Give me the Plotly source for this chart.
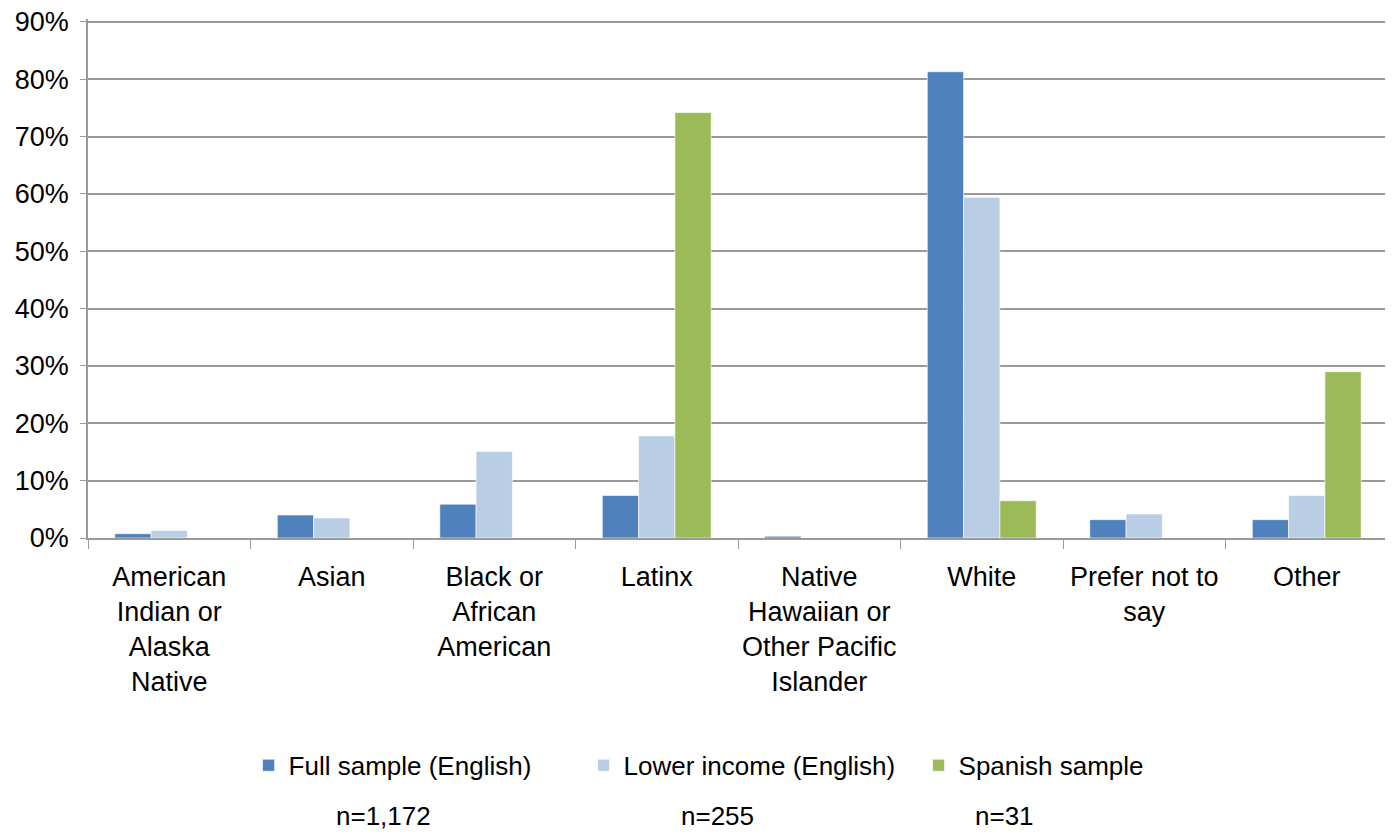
import plotly.graph_objects as go

categories = [
    "American<br>Indian or<br>Alaska<br>Native",
    "Asian",
    "Black or<br>African<br>American",
    "Latinx",
    "Native<br>Hawaiian or<br>Other Pacific<br>Islander",
    "White",
    "Prefer not to<br>say",
    "Other",
]
full_sample = [0.75, 4.0, 5.9, 7.4, 0.3, 81.3, 3.2, 3.2]
lower_income = [1.3, 3.5, 15.1, 17.8, 0.0, 59.4, 4.2, 7.4]
spanish = [0.0, 0.0, 0.0, 74.2, 0.0, 6.5, 0.0, 29.0]
series_names = ["Full sample (English)", "Lower income (English)", "Spanish sample"]
n_labels = ["n=1,172", "n=255", "n=31"]
y_ticks = [0, 10, 20, 30, 40, 50, 60, 70, 80, 90]

colors = ["#4F81BD", "#B9CDE5", "#9BBB59"]
FONT = "Liberation Sans, Arial, sans-serif"
FS = 26
TFS = 27

fig = go.Figure()
for name, vals, col in zip(series_names, [full_sample, lower_income, spanish], colors):
    fig.add_trace(go.Bar(
        x=categories, y=[v / 100 for v in vals], name=name,
        marker=dict(color=col, line=dict(color="rgba(255,255,255,0.6)", width=1)),
    ))

fig.update_layout(
    width=1385, height=827,
    paper_bgcolor="white", plot_bgcolor="white",
    font=dict(family=FONT, size=FS, color="#000000"),
    margin=dict(l=80, r=5, t=11, b=297),
    barmode="group", bargap=0.33, bargroupgap=0,
    showlegend=True,
    legend=dict(orientation="h", x=0.1235, xanchor="left", y=-0.438, yanchor="middle",
                font=dict(family=FONT, size=FS), tracegroupgap=0,
                entrywidth=290, entrywidthmode="pixels"),
)
fig.update_yaxes(
    range=[0, 0.905], tickvals=[t / 100 for t in y_ticks],
    ticktext=[f"{t}%" for t in y_ticks],
    showgrid=True, gridcolor="#9A9A9A", gridwidth=1.5,
    showline=True, linecolor="#9A9A9A", linewidth=1.5,
    ticks="outside", ticklen=6, tickcolor="#9A9A9A",
    zeroline=False, tickfont=dict(size=TFS), automargin=False,
    ticklabelstandoff=6, ticklabeloverflow="allow",
)
fig.update_xaxes(
    showline=True, linecolor="#9A9A9A", linewidth=1.5,
    ticks="outside", ticklen=9, tickcolor="#9A9A9A", tickson="boundaries",
    tickfont=dict(size=TFS), tickangle=0, automargin=False,
    ticklabelstandoff=14,
)
n_x = [0.227, 0.484, 0.705]
for txt, xp in zip(n_labels, n_x):
    fig.add_annotation(text=txt, x=xp, y=-0.535, xref="paper", yref="paper",
                       showarrow=False, font=dict(family=FONT, size=FS),
                       xanchor="center", yanchor="middle")

fig.write_html("out.html")
